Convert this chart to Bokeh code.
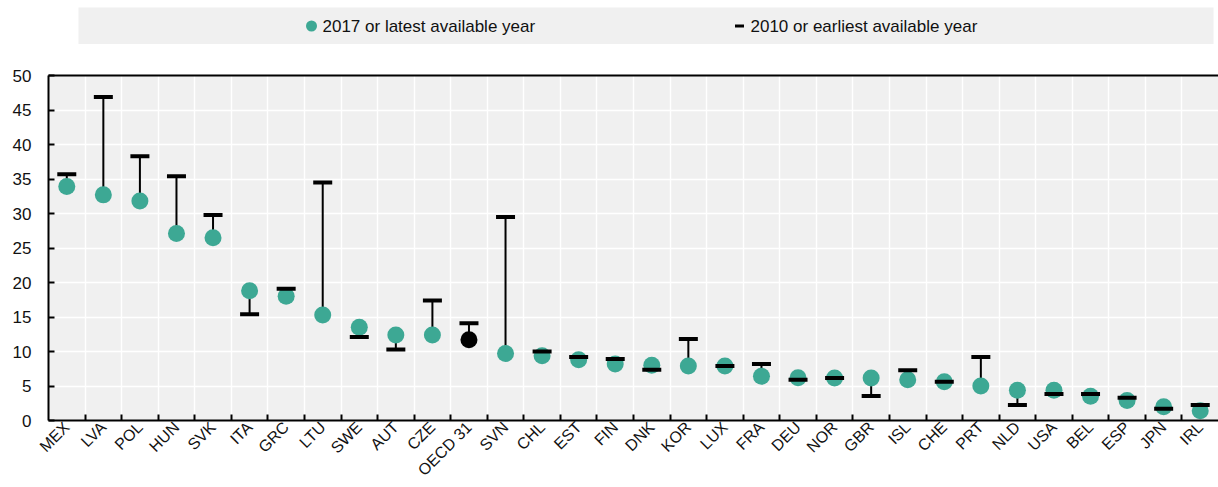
import math
from bokeh.plotting import figure
from bokeh.layouts import column
from bokeh.models import Range1d, FixedTicker, LinearAxis, ColumnDataSource
from bokeh.core.properties import value
from bokeh.embed import file_html
from bokeh.resources import INLINE

countries = ["MEX", "LVA", "POL", "HUN", "SVK", "ITA", "GRC", "LTU", "SWE", "AUT", "CZE",
             "OECD 31", "SVN", "CHL", "EST", "FIN", "DNK", "KOR", "LUX", "FRA", "DEU", "NOR",
             "GBR", "ISL", "CHE", "PRT", "NLD", "USA", "BEL", "ESP", "JPN", "IRL"]
latest = [33.9, 32.7, 31.8, 27.1, 26.5, 18.8, 18.0, 15.3, 13.5, 12.4, 12.4,
          11.7, 9.7, 9.4, 8.8, 8.2, 8.0, 7.9, 7.9, 6.4, 6.2, 6.15,
          6.15, 5.9, 5.6, 5.0, 4.4, 4.4, 3.5, 2.9, 2.0, 1.4]
earliest = [35.7, 46.9, 38.3, 35.4, 29.8, 15.4, 19.1, 34.5, 12.1, 10.3, 17.4,
            14.1, 29.5, 10.0, 9.2, 8.9, 7.35, 11.8, 7.9, 8.2, 5.9, 6.15,
            3.55, 7.3, 5.6, 9.2, 2.25, 3.85, 3.85, 3.3, 1.7, 2.25]
legend_labels = ["2017 or latest available year", "2010 or earliest available year"]
y_ticks = [0, 5, 10, 15, 20, 25, 30, 35, 40, 45, 50]

TEAL = "#3da894"
FONT = "Liberation Sans"
TXT = "#111111"
W = 1218
LEFT = 48

n = len(countries)
xs = [i + 0.5 for i in range(n)]
colors = ["black" if c.startswith("OECD") else TEAL for c in countries]
src = ColumnDataSource(dict(x=xs, latest=latest, earliest=earliest, color=colors, name=countries))

# ---------- legend strip (frame spans the same columns as the chart frame) ----------
lg = figure(width=W, height=50, x_range=Range1d(LEFT, W), y_range=Range1d(50, 0),
            toolbar_location=None, output_backend="svg",
            min_border_left=LEFT, min_border_right=0, min_border_top=0, min_border_bottom=0,
            x_axis_location=None, y_axis_location=None, outline_line_color=None,
            background_fill_color="white", border_fill_color="white")
lg.grid.visible = False
lg.quad(left=[78], right=[1213], top=[7], bottom=[43.5], fill_color="#f0f0f0", line_color=None)
lg.scatter(x=[311], y=[25.5], size=11, fill_color=TEAL, line_color=None)
lg.text(x=[322], y=[25.5], text=[legend_labels[0]], text_baseline="middle", text_align="left",
        text_font=value(FONT), text_font_size="17px", text_color=TXT)
lg.rect(x=[739], y=[25.5], width=9, height=3, fill_color="black", line_color=None)
lg.text(x=[750], y=[25.5], text=[legend_labels[1]], text_baseline="middle", text_align="left",
        text_font=value(FONT), text_font_size="17px", text_color=TXT)

# ---------- main plot ----------
p = figure(width=W, height=437, x_range=Range1d(0, n), y_range=Range1d(0, 50),
           output_backend="svg", toolbar_location=None,
           min_border_left=LEFT, min_border_right=0, min_border_top=25, min_border_bottom=65,
           background_fill_color="#f0f0f0", border_fill_color="white", outline_line_color=None)

p.yaxis.ticker = FixedTicker(ticks=y_ticks)
p.yaxis.axis_line_width = 2
p.yaxis.axis_line_color = "black"
p.yaxis.major_tick_in = 6
p.yaxis.major_tick_out = 0
p.yaxis.major_tick_line_width = 2
p.yaxis.minor_tick_in = 0
p.yaxis.minor_tick_out = 0
p.yaxis.major_label_standoff = 17
p.yaxis.major_label_text_font = FONT
p.yaxis.major_label_text_font_size = "17px"
p.yaxis.major_label_text_color = TXT

p.xaxis.ticker = FixedTicker(ticks=xs, minor_ticks=list(range(1, n)))
p.xaxis.major_label_overrides = {x: c for x, c in zip(xs, countries)}
p.xaxis.major_label_orientation = math.pi / 4
p.xaxis.axis_line_width = 2
p.xaxis.axis_line_color = "black"
p.xaxis.major_tick_in = 0
p.xaxis.major_tick_out = 0
p.xaxis.minor_tick_in = 6
p.xaxis.minor_tick_out = 0
p.xaxis.minor_tick_line_width = 2
p.xaxis.minor_tick_line_color = "black"
p.xaxis.major_label_standoff = 4
p.xaxis.major_label_text_font = FONT
p.xaxis.major_label_text_font_size = "16px"
p.xaxis.major_label_text_color = TXT

top = LinearAxis(ticker=FixedTicker(ticks=[]), axis_line_width=2, axis_line_color="black",
                 major_tick_in=0, major_tick_out=0, minor_tick_in=0, minor_tick_out=0,
                 major_label_text_font_size="0px", major_label_standoff=0)
p.add_layout(top, "above")

p.xgrid.ticker = FixedTicker(ticks=list(range(1, n)))
p.xgrid.grid_line_color = "white"
p.xgrid.grid_line_width = 1.5
p.ygrid.grid_line_color = "white"
p.ygrid.grid_line_width = 1.5

p.segment(x0="x", y0="latest", x1="x", y1="earliest", source=src, line_color="black", line_width=2)
p.scatter(x="x", y="latest", source=src, size=17, fill_color="color", line_color=None)
p.rect(x="x", y="earliest", source=src, width=19, height=4, width_units="screen",
       height_units="screen", fill_color="black", line_color=None)

layout = column(lg, p, spacing=0)
open("out.html", "w").write(file_html(layout, INLINE))
